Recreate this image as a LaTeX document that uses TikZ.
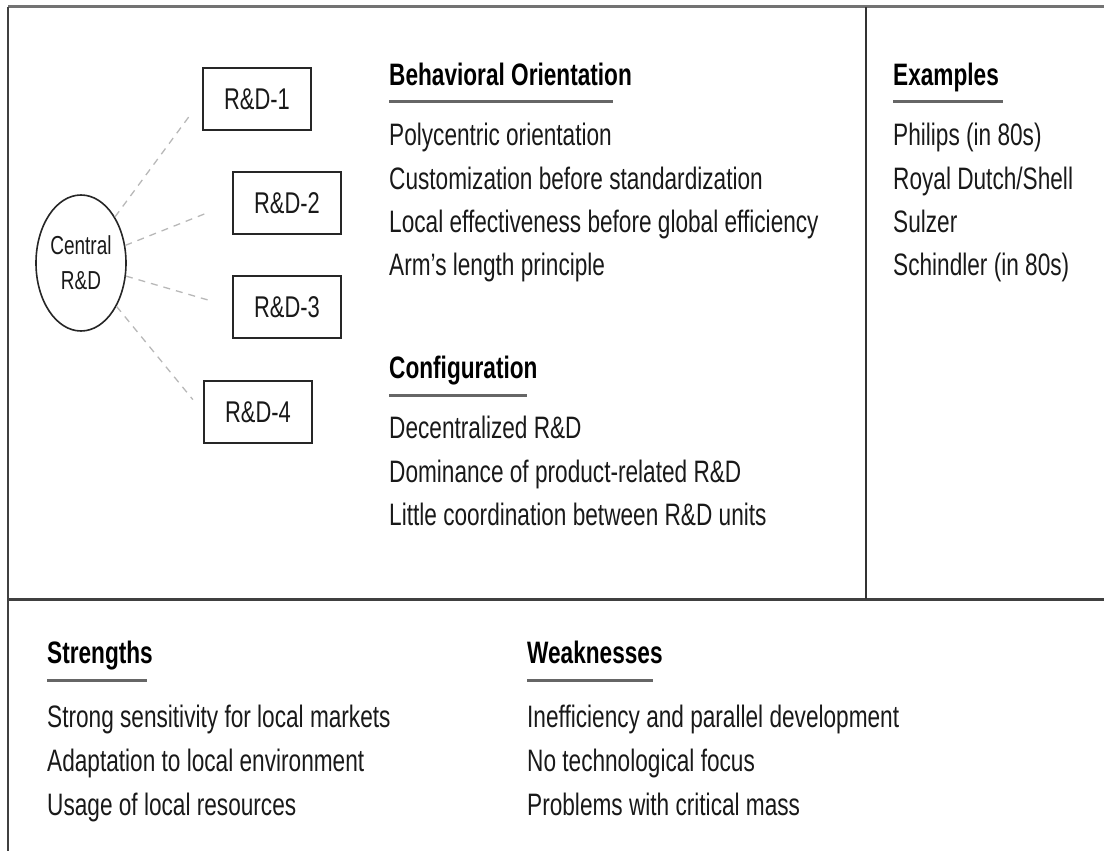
\documentclass[tikz,border=0pt]{standalone}
\usepackage{fontspec}
\setmainfont{Liberation Sans}[FakeStretch=0.73]
\usetikzlibrary{shapes.geometric}
\begin{document}
\begin{tikzpicture}[x=1pt,y=-1pt,
  txt/.style={anchor=base west, inner sep=0pt, text=black!90, font=\fontsize{31}{44}\selectfont},
  head/.style={anchor=base west, inner sep=0pt, text=black, font=\fontsize{31}{44}\selectfont\bfseries},
  uline/.style={line width=3pt, draw=black!60},
  frameline/.style={draw=black!75, line width=2pt},
  rdbox/.style={draw=black!85, line width=2pt, minimum width=108pt, minimum height=62pt, inner sep=0pt, text=black!90, font=\fontsize{30}{34}\selectfont},
  central/.style={draw=black!85, line width=1.6pt, ellipse, minimum width=90pt, minimum height=136pt, inner sep=0pt, align=center, text=black!90, font=\fontsize{26}{35}\selectfont},
  link/.style={draw=black!28, line width=1.3pt, dash pattern=on 7pt off 6pt}]
\useasboundingbox (0,0) rectangle (1104,851);
% frame
\coordinate (tl) at (8,7);
\coordinate (tr) at (1104,7);
\coordinate (bl) at (8,851);
\coordinate (ml) at (8,599);
\coordinate (mr) at (1104,599);
\coordinate (vt) at (866,7);
\coordinate (vb) at (866,599);
\draw[draw=black!55, line width=3pt] (tl) -- (tr);
\draw[frameline] (tl) -- (bl);
\draw[draw=black!75, line width=3pt] (ml) -- (mr);
\draw[draw=black!80, line width=1.5pt] (vt) -- (vb);
% central and units
\node[central] (c) at (81,263) {Central\\R\&D};
\node[rdbox] (r1) at (257,99) {R\&D-1};
\node[rdbox] (r2) at (287,203) {R\&D-2};
\node[rdbox] (r3) at (287,307) {R\&D-3};
\node[rdbox] (r4) at (258,412) {R\&D-4};
\draw[link, shorten >=17pt] (c) -- (r1.west);
\draw[link, shorten >=24pt] (c) -- (r2.west);
\draw[link, shorten >=25pt] (c) -- (r3.west);
\draw[link, shorten >=16pt] (c) -- (r4.west);
% behavioral orientation
\node[head] (bo) at (389,85) {Behavioral Orientation};
\draw[uline] ([yshift=-17pt]bo.base west) -- ++(224,0);
\node[txt] (bo1) at (389,145) {Polycentric orientation};
\node[txt] (bo2) at (389,189) {Customization before standardization};
\node[txt] (bo3) at (389,232) {Local effectiveness before global efficiency};
\node[txt] (bo4) at (389,275) {Arm{\char"27}s length principle};
% configuration
\node[head] (cf) at (389,378) {Configuration};
\draw[uline] ([yshift=-17pt]cf.base west) -- ++(138,0);
\node[txt] (cf1) at (389,438) {Decentralized R\&D};
\node[txt] (cf2) at (389,482) {Dominance of product-related R\&D};
\node[txt] (cf3) at (389,525) {Little coordination between R\&D units};
% examples
\node[head] (ex) at (893,85) {Examples};
\draw[uline] ([yshift=-17pt]ex.base west) -- ++(110,0);
\node[txt] (ex1) at (893,145) {Philips (in 80s)};
\node[txt] (ex2) at (893,189) {Royal Dutch/Shell};
\node[txt] (ex3) at (893,232) {Sulzer};
\node[txt] (ex4) at (893,275) {Schindler (in 80s)};
% strengths
\node[head] (st) at (47,663) {Strengths};
\draw[uline] ([yshift=-17pt]st.base west) -- ++(100,0);
\node[txt] (st1) at (47,727) {Strong sensitivity for local markets};
\node[txt] (st2) at (47,771) {Adaptation to local environment};
\node[txt] (st3) at (47,815) {Usage of local resources};
% weaknesses
\node[head] (wk) at (527,663) {Weaknesses};
\draw[uline] ([yshift=-17pt]wk.base west) -- ++(126,0);
\node[txt] (wk1) at (527,727) {Inefficiency and parallel development};
\node[txt] (wk2) at (527,771) {No technological focus};
\node[txt] (wk3) at (527,815) {Problems with critical mass};
\end{tikzpicture}
\end{document}
